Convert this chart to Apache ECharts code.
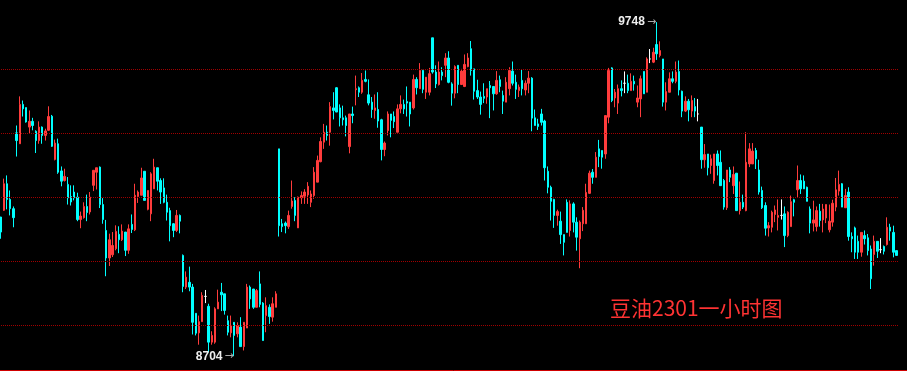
<!DOCTYPE html>
<html>
<head>
<meta charset="utf-8">
<script src="https://cdn.jsdelivr.net/npm/echarts@6/dist/echarts.min.js"></script>
<style>
html,body{margin:0;padding:0;background:#000;}
#c{width:907px;height:371px;}
</style>
</head>
<body>
<div id="c"></div>
<script>
// Each row: [open, close, lowest, highest]
const segA = [
[9139,9092,9071,9139],[9160,9243,9158,9259],[9243,9194,9163,9269],[9194,9165,9144,9222],[9165,9137,9107,9172],
[9402,9378,9328,9425],[9368,9491,9368,9516],[9491,9477,9453,9503],[9481,9436,9434,9481],[9420,9438,9401,9472],
[9438,9425,9410,9449],[9407,9378,9339,9410],[9378,9420,9368,9438],[9420,9394,9368,9422],[9394,9408,9378,9415],
[9410,9453,9408,9485],[9454,9360,9358,9458],[9319,9370,9316,9381],[9368,9279,9274,9384],[9283,9251,9235,9297],
[9253,9266,9250,9290],[9241,9199,9178,9264],[9203,9186,9175,9238],[9217,9199,9191,9238],[9201,9131,9126,9215],
[9131,9142,9104,9156],[9137,9172,9134,9185],[9172,9153,9126,9209],[9155,9201,9147,9217],[9238,9285,9220,9285],
[9279,9293,9225,9293],[9295,9178,9167,9297],[9178,9131,9118,9198],[9097,9011,8954,9130],[9011,9068,8986,9087],
[9021,9050,9014,9092],[9040,9094,9035,9113],[9085,9068,9026,9110],[9068,9095,9064,9116],[9092,9035,9017,9092],
[9035,9102,9024,9116],[9116,9100,9089,9147],[9099,9207,9095,9243],[9203,9217,9183,9222],[9207,9261,9207,9293],
[9282,9191,9191,9282],[9163,9222,9160,9222],[9149,9274,9126,9279]
];
const segB = [
[9227,9295,9227,9321],[9293,9251,9222,9293],[9253,9217,9180,9260],[9230,9185,9182,9260],[9185,9154,9128,9209],
[9159,9112,9063,9168],[9118,9097,9076,9120],[9097,9144,9092,9161],[9144,9126,9088,9147],[9019,8922,8904,9022],
[8920,8951,8914,8969],[8935,8920,8907,8984],[8920,8810,8772,8930],[8838,8776,8769,8838],[8777,8812,8740,8831],
[8812,8894,8812,8904],[8891,8891,8870,8911],[8860,8748,8716,8868],[8748,8769,8740,8782],[8748,8852,8743,8857],
[8852,8873,8852,8912],[8904,8896,8845,8933],[8899,8847,8834,8899],[8815,8779,8769,8831],[8777,8800,8763,8831],
[8810,8769,8704,8810],[8774,8800,8763,8810],[8795,8734,8734,8826],[8734,8810,8722,8810],[8792,8920,8792,8930],
[8920,8883,8852,8925],[8914,8857,8852,8914],[8857,8909,8857,8914],[8930,8866,8857,8969],[8870,8753,8753,8873],
[8831,8862,8779,8888],[8857,8828,8805,8866],[8826,8868,8812,8888],[8857,8899,8857,8907],[9352,9112,9078,9352],
[9118,9109,9092,9133],[9120,9112,9088,9125],[9109,9144,9102,9159],[9172,9189,9165,9253],[9191,9144,9126,9201],
[9105,9201,9105,9203],[9199,9206,9180,9219]
];
const segC = [
[9204,9217,9180,9226],[9208,9235,9180,9248],[9185,9211,9170,9222],[9206,9279,9196,9295],[9248,9316,9248,9331],
[9312,9375,9310,9388],[9373,9404,9352,9430],[9404,9394,9378,9425],[9404,9484,9362,9498],[9480,9472,9444,9529],
[9543,9467,9467,9545],[9480,9449,9422,9491],[9449,9443,9425,9487],[9449,9425,9391,9456],[9359,9461,9338,9461],
[9461,9456,9432,9484],[9537,9540,9488,9581],[9543,9529,9514,9547],[9529,9566,9524,9589],[9569,9563,9560,9597],
[9521,9495,9488,9569],[9498,9475,9449,9514],[9472,9480,9446,9522],[9475,9439,9418,9529],[9443,9350,9316,9446],
[9350,9370,9329,9375],[9409,9461,9394,9469],[9461,9441,9388,9461],[9453,9437,9417,9469],[9404,9477,9404,9491],
[9477,9491,9463,9519],[9491,9477,9461,9506],[9500,9495,9453,9547],[9498,9461,9422,9498],[9480,9569,9475,9584],
[9569,9543,9522,9576],[9540,9597,9540,9620]
];
const segD = [
[9597,9538,9526,9599],[9529,9576,9508,9576],[9529,9587,9519,9605],[9699,9592,9587,9699],[9592,9555,9542,9613],
[9553,9592,9550,9625],[9592,9581,9566,9607],[9613,9636,9576,9651],[9636,9560,9557,9657],[9555,9526,9487,9560],
[9526,9609,9510,9613],[9613,9553,9526,9613],[9553,9595,9553,9602],[9547,9616,9545,9647],[9609,9636,9607,9651],
[9665,9597,9581,9689],[9602,9532,9506,9602],[9534,9514,9508,9568],[9514,9491,9459,9531],[9516,9510,9495,9557],
[9514,9540,9493,9540],[9550,9543,9448,9564],[9547,9524,9472,9547],[9524,9566,9521,9595],[9568,9547,9529,9581],
[9519,9501,9461,9534],[9498,9560,9498,9576],[9540,9597,9519,9607],[9595,9557,9550,9625],[9560,9538,9508,9584],
[9534,9545,9514,9553],[9566,9540,9519,9600],[9536,9557,9519,9566],[9557,9573,9526,9595],[9573,9448,9407,9576],
[9449,9425,9425,9475],[9430,9422,9411,9446],[9461,9435,9425,9477],[9439,9293,9253,9443],[9282,9232,9213,9297],
[9232,9188,9128,9237],[9194,9144,9105,9196],[9144,9156,9112,9162],[9126,9084,9055,9156],[9084,9060,9019,9084],
[9185,9091,9091,9194]
];
const segE = [
[9097,9180,9078,9191],[9180,9123,9091,9185],[9123,9076,9034,9138],[9071,9123,8979,9128],[9118,9160,9095,9170],
[9118,9216,9118,9243],[9213,9276,9211,9284],[9279,9263,9243,9289],[9263,9326,9263,9342],[9352,9328,9295,9380],
[9347,9326,9290,9347],[9336,9456,9321,9456],[9451,9597,9432,9605],[9605,9503,9498,9607],[9511,9529,9482,9539],
[9495,9540,9461,9553],[9540,9534,9516,9566],[9557,9557,9526,9594],[9557,9534,9526,9584],[9534,9563,9534,9588],
[9563,9555,9534,9581],[9498,9511,9482,9550],[9508,9571,9451,9581],[9594,9524,9524,9594],[9529,9633,9529,9638],
[9633,9633,9620,9664],[9623,9654,9620,9668],[9678,9649,9630,9748],[9644,9659,9638,9688],[9633,9498,9484,9633],
[9498,9531,9472,9560],[9529,9571,9529,9591],[9571,9563,9557,9594],[9563,9592,9557,9625],[9594,9536,9519,9628],
[9532,9470,9451,9534],[9470,9501,9467,9516],[9501,9474,9438,9508],[9470,9503,9451,9519],[9484,9470,9451,9511],
[9461,9461,9438,9508],[9420,9318,9290,9420],[9318,9334,9293,9367],[9336,9293,9269,9336],[9300,9321,9274,9334],
[9253,9336,9243,9336],[9336,9300,9269,9347],[9310,9237,9237,9347],[9253,9170,9162,9258],[9168,9286,9161,9286]
];
const segF = [
[9286,9263,9248,9295],[9237,9272,9211,9297],[9276,9159,9159,9276],[9159,9185,9147,9250],[9185,9170,9164,9209],
[9159,9310,9157,9404],[9305,9352,9295,9370],[9305,9345,9305,9370],[9347,9321,9289,9355],[9286,9217,9209,9318],
[9222,9168,9164,9234],[9175,9104,9081,9185],[9105,9112,9078,9123],[9107,9154,9091,9159],[9147,9161,9123,9175],
[9138,9144,9097,9194],[9144,9144,9131,9194],[9149,9081,9045,9172],[9081,9154,9076,9157],[9109,9187,9109,9206],
[9193,9185,9141,9196],[9224,9253,9201,9300],[9253,9227,9211,9272],[9251,9227,9227,9269],[9232,9188,9188,9234],
[9164,9120,9088,9172],[9120,9130,9094,9190],[9109,9159,9094,9172],[9157,9128,9109,9180],[9130,9164,9091,9180],
[9136,9178,9120,9178],[9099,9126,9091,9178],[9123,9182,9109,9193],[9170,9224,9157,9261],[9220,9241,9206,9284],
[9243,9170,9170,9245],[9168,9206,9168,9227],[9217,9078,9065,9232],[9078,9071,9029,9091],[9105,9029,9008,9109],
[9063,9029,9008,9081],[9029,9091,9015,9091],[9081,9071,9053,9097],[9074,9034,9019,9086],[9039,8946,8914,9050],
[9022,9063,8987,9081],[9063,9032,9011,9063],[9037,9037,9026,9073],[9047,9032,9022,9050],[9053,9107,9050,9138],
[9107,9095,9065,9118],[9091,9029,9013,9112],[9034,9019,9019,9034]
];
const yTicks = [8600, 8800, 9000, 9200, 9400, 9600, 9800];
const titleText = '豆油2301一小时图';

const ohlc = segA.concat(segB, segC, segD, segE, segF);
const categories = ohlc.map((_, i) => 'K' + (i + 1));

const chart = echarts.init(document.getElementById('c'), null, {renderer: 'canvas'});
const labelFmt = p => '{v|' + p.value + '}{a|→}';
chart.setOption({
  backgroundColor: '#000',
  animation: false,
  grid: {left: -1, width: 899.2, top: 5.5, height: 384, containLabel: false, outerBoundsMode: 'none'},
  xAxis: {
    type: 'category', data: categories, boundaryGap: true,
    axisLine: {show: false}, axisTick: {show: false}, axisLabel: {show: false}, splitLine: {show: false}
  },
  yAxis: {
    type: 'value', min: yTicks[0], max: yTicks[yTicks.length - 1], interval: 200,
    axisLine: {show: false}, axisTick: {show: false}, axisLabel: {show: false},
    splitLine: {show: false}
  },
  series: [{
    type: 'candlestick',
    data: ohlc,
    barWidth: 2,
    itemStyle: {
      color: '#ff3c3c', color0: '#00ffff',
      borderColor: '#ff3c3c', borderColor0: '#00ffff',
      borderColorDoji: '#ffffff', borderWidth: 1
    },
    markLine: {
      silent: true, symbol: 'none', animation: false,
      label: {show: false},
      lineStyle: {color: '#a00000', type: [1, 1], width: 1, opacity: 1},
      emphasis: {disabled: true},
      data: yTicks.slice(1, -1).map(v => ({yAxis: v}))
    },
    markPoint: {
      symbol: 'circle', symbolSize: 1,
      itemStyle: {color: 'rgba(0,0,0,0)'},
      label: {
        show: true, position: 'left', distance: 0, formatter: labelFmt,
        rich: {
          v: {color: '#eeeeee', fontSize: 12, fontWeight: 'bold', fontFamily: 'Liberation Sans'},
          a: {color: '#aaaaaa', fontSize: 11, fontFamily: 'DejaVu Sans', padding: [0, 0, 0, 2]}
        }
      },
      data: [{type: 'max', valueDim: 'highest'}, {type: 'min', valueDim: 'lowest'}]
    }
  }],
  graphic: [
    {type: 'line', shape: {x1: 0, y1: 370.5, x2: 907, y2: 370.5}, style: {stroke: '#d00000', lineWidth: 1}},
    {type: 'text', left: 610, top: 298, style: {text: titleText, fill: '#ff3333',
      font: '21px "Noto Sans CJK SC"'}}
  ]
});
</script>
</body>
</html>
